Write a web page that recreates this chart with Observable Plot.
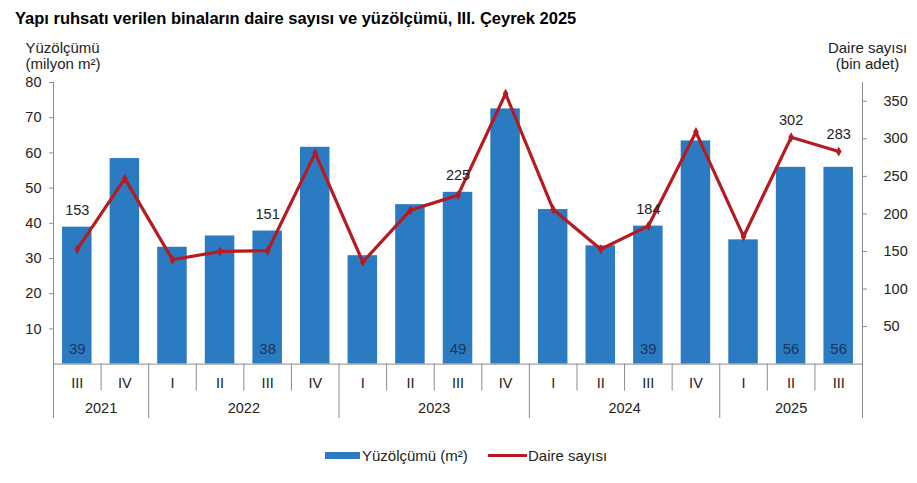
<!DOCTYPE html>
<html><head><meta charset="utf-8">
<script src="https://cdn.jsdelivr.net/npm/d3@7"></script>
<script src="https://cdn.jsdelivr.net/npm/@observablehq/plot@0.6"></script>
<style>
body{margin:0;background:#fff;font-family:"Liberation Sans",Arial,sans-serif;}
#title{height:34px;padding-left:15px;font-weight:bold;font-size:16.5px;line-height:37px;color:#000;white-space:nowrap;}
#chart svg{display:block;}
#legend{height:49px;position:relative;font-size:15px;color:#222;}
#legend .item{position:absolute;top:12px;height:18px;display:flex;align-items:center;white-space:nowrap;}
#legend .sw1{width:35px;height:7px;background:#2B7BC2;margin-right:2px;}
#legend .sw2{width:39px;height:3px;background:#B51B21;margin-right:1px;}
</style></head><body>
<div id="title">Yapı ruhsatı verilen binaların daire sayısı ve yüzölçümü, III. Çeyrek 2025</div>
<div id="chart"></div>
<div id="legend">
  <div class="item" style="left:325px"><span class="sw1"></span><span>Yüzölçümü (m²)</span></div>
  <div class="item" style="left:488px"><span class="sw2"></span><span>Daire sayısı</span></div>
</div>
<script>
const quarters = ["III","IV","I","II","III","IV","I","II","III","IV","I","II","III","IV","I","II","III"];
const quarterYears = ["2021","2021","2022","2022","2022","2022","2023","2023","2023","2023","2024","2024","2024","2024","2025","2025","2025"];
const areaValues = [38.9, 58.4, 33.2, 36.4, 37.8, 61.6, 30.8, 45.3, 48.8, 72.5, 43.9, 33.6, 39.2, 63.4, 35.3, 55.9, 55.9];
const dwellingValues = [153, 247, 139, 150, 151, 281, 136, 205, 225, 360, 206, 153, 184, 309, 170, 302, 283];
const labeledIdx = [0, 4, 8, 12, 15, 16];
const leftTicks = [10, 20, 30, 40, 50, 60, 70, 80];
const rightTicks = [50, 100, 150, 200, 250, 300, 350];
const LEFT_MAX = 80, RIGHT_MAX = 375;
const k = LEFT_MAX / RIGHT_MAX;

const BLUE = "#2B7BC2", RED = "#B51B21", GRAY = "#8c8c8c", TXT = "#222";
const rows = quarters.map((q, i) => ({i, q, year: quarterYears[i], area: areaValues[i], dw: dwellingValues[i]}));
const labeled = rows.filter(d => labeledIdx.includes(d.i));
const yearGroups = d3.groups(rows, d => d.year).map(([year, rs]) => ({year, start: rs[0].i, end: rs[rs.length - 1].i + 1}));
const quarterBounds = d3.range(1, rows.length).filter(i => quarterYears[i] === quarterYears[i - 1]);
const innerYearBounds = yearGroups.slice(0, -1).map(g => g.end);
const edges = [0, rows.length];

const H = 400, MT = 48, MB = 70.4;
const innerH = H - MT - MB;

const chart = Plot.plot({
  width: 917, height: H,
  marginTop: MT, marginBottom: MB, marginLeft: 53, marginRight: 55,
  x: {type: "linear", domain: [0, rows.length], axis: null},
  y: {domain: [0, LEFT_MAX], axis: null},
  style: {fontFamily: '"Liberation Sans", Arial, sans-serif', fontSize: "14.5px", color: TXT, background: "#fff", overflow: "visible"},
  marks: [
    Plot.rectY(rows, {x1: d => d.i + 0.19, x2: d => d.i + 0.81, y: "area", fill: BLUE}),
    Plot.ruleY([0], {stroke: GRAY}),
    Plot.ruleX(edges, {x: d => d, stroke: GRAY, insetBottom: -54.4}),
    Plot.ruleX(innerYearBounds, {x: d => d, stroke: GRAY, insetTop: innerH, insetBottom: -54.4}),
    Plot.ruleX(quarterBounds, {x: d => d, stroke: GRAY, insetTop: innerH, insetBottom: -27}),
    Plot.axisY(leftTicks, {anchor: "left", tickSize: 4, tickPadding: 8, stroke: GRAY, fill: TXT, fontSize: 14.5, label: null}),
    Plot.axisY(rightTicks.map(t => t * k), {anchor: "right", tickSize: 4, tickPadding: 17, textAnchor: "start", stroke: GRAY, fill: TXT, fontSize: 14.5, tickFormat: d => Math.round(d / k), label: null}),
    Plot.line(rows, {x: d => d.i + 0.5, y: d => d.dw * k, stroke: RED, strokeWidth: 3.2, strokeLinejoin: "miter"}),
    Plot.dot(rows, {x: d => d.i + 0.5, y: d => d.dw * k, symbol: "diamond", r: 3, fill: RED}),
    Plot.text(labeled, {x: d => d.i + 0.5, y: d => Math.max(d.dw * k, d.area), text: d => d.dw, dy: -17, fill: TXT, fontSize: 14.5}),
    Plot.text(labeled, {x: d => d.i + 0.5, y: 0, text: d => Math.round(d.area), dy: -15, fill: "#1F3458", fontSize: 15}),
    Plot.text(rows, {x: d => d.i + 0.5, y: 0, text: "q", dy: 19.5, fill: TXT, fontSize: 14.5}),
    Plot.text(yearGroups, {x: d => (d.start + d.end) / 2, y: 0, text: "year", dy: 44.5, fill: TXT, fontSize: 14.5}),
    Plot.text(["Yüzölçümü\n(milyon m²)"], {frameAnchor: "top-left", dx: -28, dy: -42, textAnchor: "start", lineAnchor: "top", lineHeight: 1.13, fill: TXT, fontSize: 15}),
    Plot.text(["Daire sayısı\n(bin adet)"], {frameAnchor: "top-right", dx: 5, dy: -42, textAnchor: "middle", lineAnchor: "top", lineHeight: 1.13, fill: TXT, fontSize: 15})
  ]
});
document.getElementById("chart").appendChild(chart);
</script>
</body></html>
